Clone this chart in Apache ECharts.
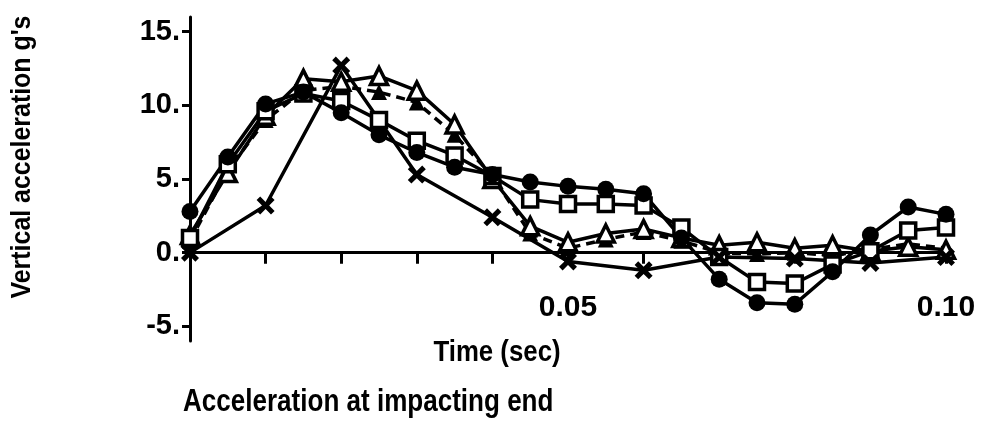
<!DOCTYPE html>
<html>
<head>
  <meta charset="UTF-8">
  <title>Acceleration at impacting end</title>
  <script src="https://cdn.jsdelivr.net/npm/echarts@6/dist/echarts.min.js"></script>
  <style>
    body { margin: 0; padding: 0; background: #fff; }
    #chart { width: 982px; height: 428px; }
  </style>
</head>
<body>
  <div id="chart"></div>
  <script>
    // time points (sec)
    var times = [0, 0.005, 0.01, 0.015, 0.02, 0.025, 0.03, 0.035, 0.04, 0.045, 0.05,
                 0.055, 0.06, 0.065, 0.07, 0.075, 0.08, 0.085, 0.09, 0.095, 0.10];
    var crossTimes = [0, 0.01, 0.02, 0.03, 0.04, 0.05, 0.06, 0.07, 0.08, 0.09, 0.10];

    // vertical acceleration (g's)
    var circleVals = [2.8, 6.5, 10.1, 10.9, 9.5, 8.0, 6.8, 5.8, 5.3, 4.8, 4.5,
                      4.3, 4.0, 1.0, -1.8, -3.4, -3.5, -1.3, 1.2, 3.1, 2.6];
    var squareVals = [1.0, 6.0, 9.6, 10.8, 10.3, 9.0, 7.6, 6.6, 5.2, 3.6, 3.3,
                      3.3, 3.2, 1.7, -0.3, -2.0, -2.1, -0.8, 0.1, 1.5, 1.7];
    var openTriVals = [1.2, 5.4, 9.3, 11.8, 11.6, 12.0, 11.0, 8.7, 5.0, 1.8, 0.7,
                       1.3, 1.6, 1.0, 0.5, 0.7, 0.3, 0.5, 0.1, 0.4, 0.2];
    var filledTriVals = [0.8, 5.6, 9.0, 11.0, 11.3, 10.9, 10.2, 8.0, 5.2, 1.3, 0.3,
                         0.9, 1.4, 0.8, 0.0, -0.1, 0.0, -0.2, 0.2, 0.6, 0.3];
    var crossVals = [0, 3.2, 12.7, 5.3, 2.4, -0.6, -1.2, -0.3, -0.4, -0.7, -0.3];

    var yTicks = [-5, 0, 5, 10, 15];
    var xTicks = [0.01, 0.02, 0.03, 0.04, 0.05, 0.06, 0.07, 0.08, 0.09, 0.10];
    var xLabels = [0.05, 0.10];

    var FONT = "'Liberation Sans', Arial, sans-serif";
    // thick X marker
    var crossPath = 'path://M0,2 L2,0 L5,3 L8,0 L10,2 L7,5 L10,8 L8,10 L5,7 L2,10 L0,8 L3,5 Z';

    function pairs(xs, ys) {
      var out = [];
      for (var i = 0; i < xs.length; i++) out.push([xs[i], ys[i]]);
      return out;
    }

    function makeSeries(name, xs, ys, symbol, size, fill, dashed) {
      return {
        name: name,
        type: 'line',
        data: pairs(xs, ys),
        symbol: symbol,
        symbolSize: size,
        showAllSymbol: true,
        lineStyle: { color: '#000', width: 3.5, type: dashed ? [9, 6] : 'solid' },
        itemStyle: { color: fill, borderColor: '#000', borderWidth: fill === '#fff' ? 3.5 : 0 },
        emphasis: { disabled: true },
        animation: false
      };
    }

    var chart = echarts.init(document.getElementById('chart'));

    var option = {
      backgroundColor: '#fff',
      animation: false,
      grid: { left: 190, right: 36, top: 17, bottom: 87, containLabel: false, outerBoundsMode: 'none' },
      xAxis: {
        type: 'value',
        min: 0,
        max: 0.1,
        axisLine: { onZero: true, lineStyle: { color: '#000', width: 3 } },
        axisTick: { show: true, customValues: xTicks, length: 11, lineStyle: { color: '#000', width: 3 } },
        axisLabel: {
          customValues: xLabels,
          margin: -48,
          fontFamily: FONT,
          fontWeight: 'bold',
          fontSize: 30,
          color: '#000',
          formatter: function (v) { return v.toFixed(2); }
        },
        splitLine: { show: false }
      },
      yAxis: {
        type: 'value',
        min: -6,
        max: 16,
        axisLine: { show: true, onZero: false, lineStyle: { color: '#000', width: 3 } },
        axisTick: { show: true, customValues: yTicks, length: 8, lineStyle: { color: '#000', width: 3 } },
        axisLabel: {
          customValues: yTicks,
          margin: 10,
          fontFamily: FONT,
          fontWeight: 'bold',
          fontSize: 29,
          color: '#000',
          formatter: function (v) { return v + '.'; }
        },
        splitLine: { show: false }
      },
      graphic: [
        {
          type: 'text',
          x: 22, y: 157,
          rotation: Math.PI / 2,
          scaleX: 0.89,
          style: { text: "Vertical acceleration g's", font: 'bold 28px ' + FONT, fill: '#000',
                   textAlign: 'center', textVerticalAlign: 'middle' }
        },
        {
          type: 'text',
          x: 497, y: 353,
          scaleX: 0.86,
          style: { text: 'Time (sec)', font: 'bold 30px ' + FONT, fill: '#000',
                   textAlign: 'center', textVerticalAlign: 'middle' }
        },
        {
          type: 'text',
          x: 183, y: 402,
          scaleX: 0.84,
          style: { text: 'Acceleration at impacting end', font: 'bold 31px ' + FONT, fill: '#000',
                   textAlign: 'left', textVerticalAlign: 'middle' }
        }
      ],
      series: [
        makeSeries('filled triangle', times, filledTriVals, 'triangle', 16, '#000', true),
        makeSeries('open triangle', times, openTriVals, 'triangle', 17, '#fff', false),
        makeSeries('square', times, squareVals, 'rect', 15, '#fff', false),
        makeSeries('circle', times, circleVals, 'circle', 17, '#000', false),
        makeSeries('cross', crossTimes, crossVals, crossPath, 18, '#000', false)
      ]
    };

    chart.setOption(option);
  </script>
</body>
</html>
